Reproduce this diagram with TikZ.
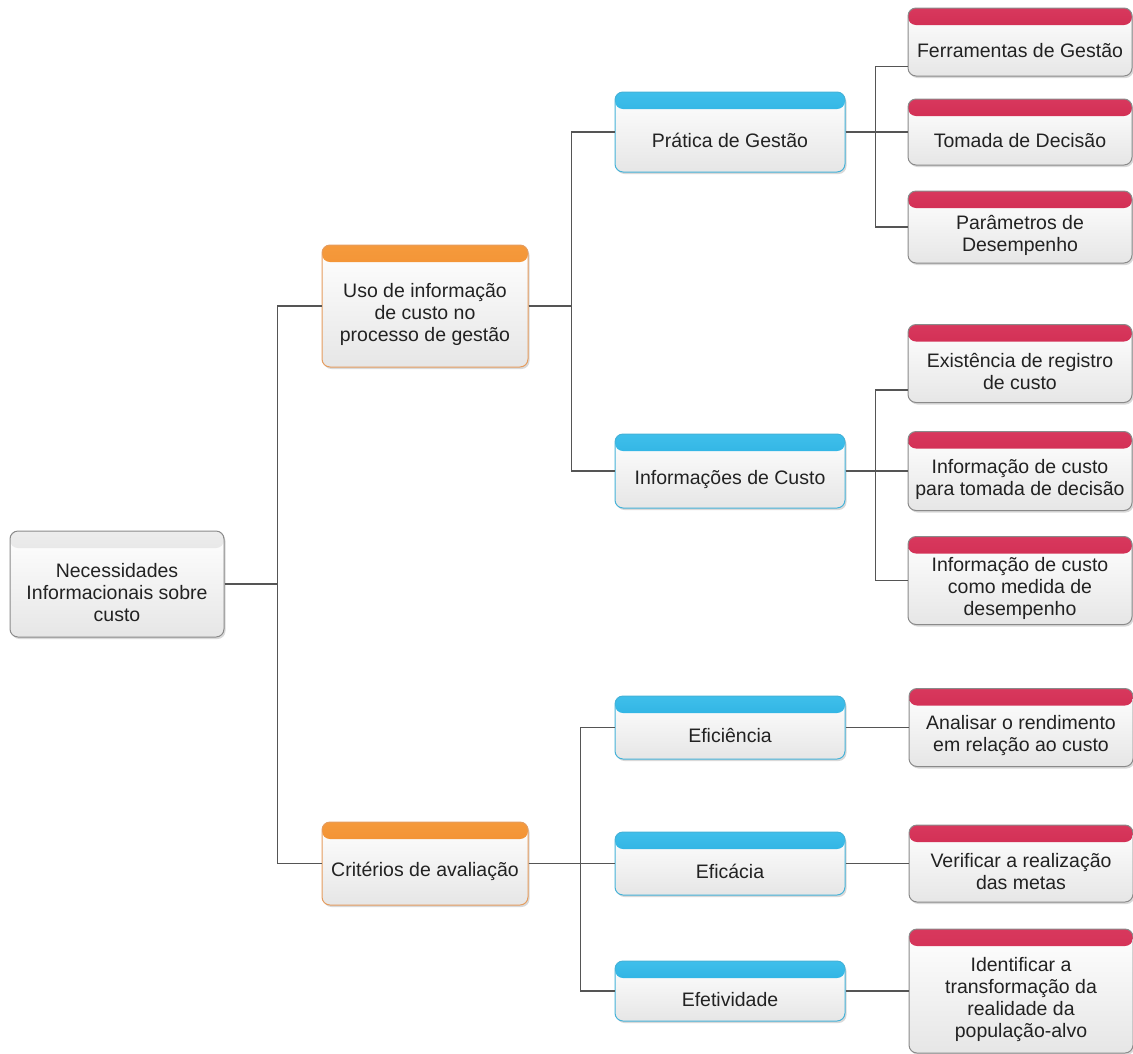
\documentclass[tikz,border=0pt]{standalone}
\usepackage{fontspec}
\setmainfont{Liberation Sans}
\usepackage{xcolor}
\usetikzlibrary{positioning, shadows}
\definecolor{inkgray}{HTML}{222222}
\definecolor{wiregray}{HTML}{555555}
\definecolor{edgegray}{HTML}{8A8A8A}
\definecolor{bodygray}{HTML}{E6E6E6}
\definecolor{orangetop}{HTML}{F59A3C}
\definecolor{orangebot}{HTML}{EC7A1C}
\definecolor{orangeedge}{HTML}{E59C5E}
\definecolor{bluetop}{HTML}{3FBFEB}
\definecolor{bluebot}{HTML}{109CD3}
\definecolor{blueedge}{HTML}{45B2D8}
\definecolor{redtop}{HTML}{D8385D}
\definecolor{redbot}{HTML}{C2163D}
\definecolor{greytop}{HTML}{EDEDED}
\definecolor{greybot}{HTML}{CFCFCF}

\begin{document}
\begin{tikzpicture}[
    x = 1pt, y = -1pt,
    font = \fontsize{19.5}{22}\selectfont, text = inkgray, align = center,
    box/.style = {
      rectangle, draw = #1, line width = 1pt, rounded corners = 8pt,
      top color = white, bottom color = bodygray,
      inner sep = 2pt, text height = 31pt,
      drop shadow = {shadow xshift = 1.5pt, shadow yshift = -2pt,
        opacity = .3, fill = gray}
    },
    % coloured strip along the top of a box
    head/.style 2 args = {
      path picture = {
        \shade[top color = #1, bottom color = #2]
          (path picture bounding box.north west) rectangle
          ([yshift = -17pt]path picture bounding box.north east);
      }
    },
    dims/.style 2 args = {minimum width = #1, minimum height = #2},
    % text height for two, three and four lines of text
    lines2/.style = {text height = 53pt},
    lines3/.style = {text height = 75pt},
    lines4/.style = {text height = 97pt},
    root/.style = {box = edgegray, head = {greytop}{greybot}},
    topic/.style = {box = orangeedge, head = {orangetop}{orangebot}},
    subtopic/.style = {box = blueedge, head = {bluetop}{bluebot}},
    leaf/.style = {box = edgegray, head = {redtop}{redbot}},
    branch/.style = {draw = wiregray, line width = 1.1pt}
    ]
\useasboundingbox (0,0) rectangle (1133,1053);

\node  [root, lines3, dims = {214pt}{106pt}]  (necess)  at (117,584)  {Necessidades\\Informacionais sobre\\custo};

\node  [topic, lines3, dims = {206pt}{122pt}]  (uso)  at (425,306)  {Uso de informação\\de custo no\\processo de gestão};
\node  [topic, dims = {206pt}{83pt}]  (criterios)  at (425,863.5)  {Critérios de avaliação};

\node  [subtopic, dims = {230pt}{80pt}]  (pratica)  at (730,132)  {Prática de Gestão};
\node  [subtopic, dims = {230pt}{74pt}]  (infocusto)  at (730,471)  {Informações de Custo};
\node  [subtopic, dims = {230pt}{63pt}]  (eficacia)  [right = 86pt of criterios]  {Eficácia};
\node  [subtopic, dims = {230pt}{63pt}]  (eficiencia)  [above = 72pt of eficacia]  {Eficiência};
\node  [subtopic, dims = {230pt}{60pt}]  (efetividade)  [below = 65pt of eficacia]  {Efetividade};

\node  [leaf, dims = {224pt}{66pt}]  (tomada)  [right = 62pt of pratica]  {Tomada de Decisão};
\node  [leaf, dims = {224pt}{68pt}]  (ferramentas)  [above = 22pt of tomada]  {Ferramentas de Gestão};
\node  [leaf, lines2, dims = {224pt}{72pt}]  (parametros)  [below = 25pt of tomada]  {Parâmetros de\\Desempenho};
\node  [leaf, lines2, dims = {224pt}{79pt}]  (infotomada)  [right = 62pt of infocusto]  {Informação de custo\\para tomada de decisão};
\node  [leaf, lines2, dims = {224pt}{78pt}]  (registro)  [above = 28pt of infotomada]  {Existência de registro\\de custo};
\node  [leaf, lines3, dims = {224pt}{88pt}]  (infomedida)  [below = 25pt of infotomada]  {Informação de custo\\como medida de\\desempenho};
\node  [leaf, lines2, dims = {224pt}{78pt}]  (analisar)  [right = 63pt of eficiencia]  {Analisar o rendimento\\em relação ao custo};
\node  [leaf, lines2, dims = {224pt}{77pt}]  (verificar)  [right = 63pt of eficacia]  {Verificar a realização\\das metas};
\node  [leaf, lines4, dims = {224pt}{124pt}]  (identificar)  [right = 63pt of efetividade]  {Identificar a\\transformação da\\realidade da\\população-alvo};

\draw  [branch]  (necess.east)  -- ++(53,0) |-  (uso.west);
\draw  [branch]  (necess.east)  -- ++(53,0) |-  (criterios.west);
\draw  [branch]  (uso.east)  -- ++(43,0) |-  (pratica.west);
\draw  [branch]  (uso.east)  -- ++(43,0) |-  (infocusto.west);
\draw  [branch]  (criterios.east)  -- ++(52,0) |-  (eficiencia.west);
\draw  [branch]  (criterios.east)  --  (eficacia.west);
\draw  [branch]  (criterios.east)  -- ++(52,0) |-  (efetividade.west);
\draw  [branch]  (pratica.east)  -- ++(30,0) |-  ([yshift = 10pt]ferramentas.south west);
\draw  [branch]  (pratica.east)  --  (tomada.west);
\draw  [branch]  (pratica.east)  -- ++(30,0) |-  (parametros.west);
\draw  [branch]  (infocusto.east)  -- ++(30,0) |-  ([yshift = 13pt]registro.south west);
\draw  [branch]  (infocusto.east)  --  (infotomada.west);
\draw  [branch]  (infocusto.east)  -- ++(30,0) |-  (infomedida.west);
\draw  [branch]  (eficiencia.east)  --  (analisar.west);
\draw  [branch]  (eficacia.east)  --  (verificar.west);
\draw  [branch]  (efetividade.east)  --  (identificar.west);

\end{tikzpicture}
\end{document}
